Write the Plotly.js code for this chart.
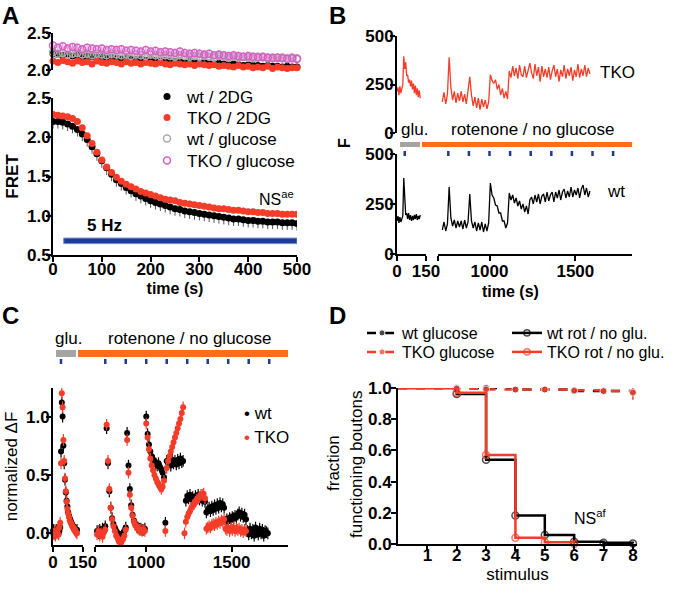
<!DOCTYPE html>
<html>
<head>
<meta charset="utf-8">
<script src="https://cdn.plot.ly/plotly-3.0.1.min.js"></script>
<style>html,body{margin:0;padding:0;background:#fff}</style>
</head>
<body>
<div id="chart" style="width:682px;height:589px"></div>
<script>
// ---- panel A : FRET over time (10 s sampling) ----
const aTime = [0,10,20,30,40,50,60,70,80,90,100,110,120,130,140,150,160,170,180,190,200,210,220,230,240,250,260,270,280,290,300,310,320,330,340,350,360,370,380,390,400,410,420,430,440,450,460,470,480,490,500];
// top strip (unstimulated)
const aWtRest = [2.22,2.21,2.20,2.21,2.19,2.20,2.18,2.19,2.18,2.17, 2.18,2.16,2.17,2.16,2.15,2.16,2.15,2.14,2.15,2.13, 2.14,2.13,2.12,2.13,2.12,2.11,2.12,2.10,2.11,2.10, 2.09,2.10,2.09,2.08,2.09,2.08,2.07,2.08,2.07,2.06, 2.07,2.06,2.06,2.05,2.06,2.05,2.05,2.04,2.05,2.04, 2.04];
const aTkoRest = [2.12,2.10,2.13,2.11,2.09,2.12,2.10,2.11,2.08,2.12, 2.10,2.09,2.11,2.10,2.08,2.11,2.09,2.10,2.08,2.10, 2.09,2.08,2.10,2.08,2.07,2.09,2.08,2.07,2.08,2.06, 2.08,2.07,2.06,2.07,2.05,2.06,2.05,2.04,2.06,2.04, 2.05,2.03,2.04,2.03,2.05,2.02,2.04,2.03,2.02,2.03, 2.03];
const aWtGlu = [2.24,2.22,2.23,2.21,2.22,2.23,2.21,2.22,2.20,2.22, 2.21,2.20,2.22,2.21,2.20,2.21,2.19,2.21,2.20,2.19, 2.21,2.20,2.19,2.20,2.19,2.18,2.20,2.19,2.18,2.19, 2.18,2.19,2.18,2.17,2.19,2.18,2.17,2.18,2.17,2.18, 2.17,2.16,2.18,2.17,2.16,2.17,2.16,2.17,2.16,2.17, 2.16];
const aTkoGlu = [2.33,2.30,2.32,2.29,2.31,2.30,2.28,2.30,2.29,2.28, 2.29,2.27,2.28,2.27,2.28,2.26,2.27,2.26,2.25,2.27, 2.25,2.26,2.24,2.25,2.24,2.23,2.25,2.23,2.22,2.23, 2.22,2.21,2.22,2.20,2.21,2.20,2.19,2.20,2.19,2.18, 2.19,2.18,2.17,2.18,2.17,2.16,2.17,2.16,2.15,2.16, 2.15];
// main plot (5 Hz, 2DG)
const aWt2dg = [2.20,2.20,2.19,2.17,2.14,2.10,2.04,1.97,1.88,1.79, 1.70,1.61,1.53,1.46,1.41,1.36,1.32,1.28,1.25,1.22, 1.19,1.17,1.15,1.13,1.11,1.09,1.08,1.06,1.05,1.04, 1.03,1.02,1.01,1.00,0.99,0.98,0.97,0.96,0.96,0.95, 0.94,0.94,0.93,0.93,0.92,0.92,0.92,0.91,0.91,0.91, 0.90];
const aTko2dg = [2.29,2.28,2.27,2.26,2.24,2.20,2.12,2.02,1.92,1.81, 1.71,1.62,1.55,1.49,1.44,1.40,1.37,1.34,1.31,1.29, 1.27,1.25,1.23,1.21,1.20,1.19,1.17,1.16,1.15,1.14, 1.13,1.12,1.11,1.10,1.09,1.09,1.08,1.07,1.07,1.06, 1.05,1.05,1.04,1.04,1.03,1.03,1.03,1.02,1.02,1.02, 1.02];
const aSemWt2dg = 0.09, aSemTko2dg = 0.04, aSemRest = 0.03, aSemGlu = 0.06;
const aStimWindow = [22, 500];

// ---- stimuli shared by B and C ----
const stimTimes = [40, 760, 880, 1000, 1120, 1240, 1360, 1480, 1600, 1720];

// ---- panel B : raw fluorescence ----
const bTimeEarly = [0,5,10,15,20,25,30,35,40,45,50,55,60,65,70,75,80,85,90,95,100,105,110,115,120];
const bTkoEarly = [215,235,195,240,205,225,250,395,330,365,295,300,260,275,240,270,225,255,205,245,195,230,185,220,180];
const bWtEarly = [165,190,155,185,160,180,190,380,240,195,205,175,205,170,195,165,190,170,195,175,200,170,190,175,195];
const bTimeLate = [725,735,745,755,765,775,785,795,805,815, 825,835,845,855,865,875,885,895,905,915, 925,935,945,955,965,975,985,995,1005,1015, 1025,1035,1045,1055,1065,1075,1085,1095,1105,1115, 1125,1135,1145,1155,1165,1175,1185,1195,1205,1215, 1225,1235,1245,1255,1265,1275,1285,1295,1305,1315, 1325,1335,1345,1355,1365,1375,1385,1395,1405,1415, 1425,1435,1445,1455,1465,1475,1485,1495,1505,1515, 1525,1535,1545,1555,1565,1575,1585];
const bTkoLate = [160,210,150,200,390,235,170,215,155,205, 165,215,160,200,150,210,290,195,140,185, 130,180,120,175,135,170,125,160,300,270, 255,275,225,250,195,230,180,215,175,320, 285,345,295,335,280,350,300,290,345,285, 325,360,310,280,355,295,340,265,345,290, 330,285,340,275,320,350,290,330,265,325, 290,350,280,330,295,340,270,325,290,355, 285,330,295,350,290,335,305];
const bWtLate = [120,160,115,150,335,180,140,170,130,165, 135,165,125,170,130,160,300,165,130,160, 115,155,120,160,110,150,115,155,355,295, 280,245,240,205,205,165,165,130,155,305, 270,295,255,280,240,265,225,250,210,240, 200,270,285,250,295,260,300,250,290,300, 260,310,265,295,310,260,310,280,320,270, 310,325,280,315,285,335,285,320,295,330, 280,325,345,295,330,285,315];

// ---- panel C : normalized dF ----
const cTimeEarly = [0,4,8,12,16,20,24,28,32,36,40,44,48,52,56,60,64,68,72,76,80,84,88,92,96,100,104,108,112,116,120];
const cWtEarly = [0.02,0.03,0.00,0.01,0.03,0.01,0.02,0.00,0.02,0.05, 0.70,1.12,1.00,0.75,0.60,0.46,0.35,0.28,0.23,0.18, 0.15,0.13,0.11,0.09,0.07,0.06,0.05,0.04,0.03,0.02, 0.03];
const cTkoEarly = [0.00,-0.01,0.02,-0.02,0.01,0.00,0.03,-0.01,0.05,0.09, 0.60,1.20,1.08,0.80,0.62,0.47,0.36,0.27,0.21,0.17, 0.14,0.11,0.09,0.08,0.06,0.05,0.04,0.03,0.02,0.01, 0.00];
const cTimeLate = [712,720,728,736,744,752,760,768,776,784, 792,800,808,816,824,832,840,848,856,864, 872,880,888,896,904,912,920,928,936,944, 952,960,968,976,984,992,1000,1008,1016,1024, 1032,1040,1048,1056,1064,1072,1080,1088,1096,1104, 1112,1120,1128,1136,1144,1152,1160,1168,1176,1184, 1192,1200,1208,1216,1224,1232,1240,1248,1256,1264, 1272,1280,1288,1296,1304,1312,1320,1328,1336,1344, 1352,1360,1368,1376,1384,1392,1400,1408,1416,1424, 1432,1440,1448,1456,1464,1472,1480,1488,1496,1504, 1512,1520,1528,1536,1544,1552,1560,1568,1576,1584, 1592,1600,1608,1616,1624,1632,1640,1648,1656,1664, 1672,1680,1688,1696,1704,1712];
const cWtLate = [0.02,0.00,0.03,0.01,0.04,0.02,0.06,0.90,0.60,0.36, 0.22,0.13,0.08,0.05,0.02,0.00,-0.02,-0.03,-0.02,0.00, 0.02,0.05,0.86,0.58,0.38,0.24,0.16,0.11,0.08,0.06, 0.05,0.04,0.04,0.03,0.03,0.04,1.00,0.85,0.76,0.70, 0.66,0.63,0.62,0.60,0.58,0.60,0.57,0.55,0.52,0.48, 0.09,0.62,0.60,0.62,0.58,0.63,0.60,0.62,0.59,0.63, 0.60,0.64,0.61,0.62,null,0.28,0.32,0.30,0.33,0.29, 0.31,0.28,0.32,0.30,0.33,0.29,0.31,0.28,0.30,0.27, 0.18,0.20,0.22,0.19,0.23,0.20,0.24,0.21,0.25,0.22, 0.26,0.23,0.25,0.22,0.10,0.12,0.11,0.13,0.12,0.14, 0.13,0.15,0.14,0.16,0.18,0.15,0.17,0.14,0.16,0.12, 0.02,-0.01,0.04,0.00,0.03,-0.02,0.05,0.01,-0.01,0.04, 0.00,0.03,-0.02,0.02,0.01,0.00];
const cTkoLate = [-0.01,0.02,-0.02,0.00,-0.03,0.01,0.03,0.93,0.62,0.38, 0.22,0.12,0.06,0.02,-0.02,-0.04,-0.07,-0.08,-0.07,-0.05, -0.02,0.03,0.80,0.52,0.33,0.22,0.15,0.10,0.07,0.05, 0.04,0.03,0.03,0.02,0.03,0.02,0.94,0.82,0.72,0.64, 0.58,0.54,0.50,0.47,0.44,0.42,0.40,0.38,0.40,0.45, 0.02,0.56,0.62,0.66,0.70,0.74,0.78,0.82,0.86,0.90, 0.94,0.98,1.03,1.08,0.00,0.10,0.14,0.17,0.19,0.22, 0.24,0.25,0.27,0.29,0.30,0.31,0.33,0.33,0.34,0.30, 0.04,0.05,0.06,0.05,0.07,0.08,0.07,0.09,0.08,0.10, 0.09,0.11,0.10,0.12,0.04,0.03,0.05,0.02,0.04,0.03, 0.05,0.02,0.04,0.03,0.04,0.02,0.03,0.01,0.03,0.02, null,null,null,null,null,null,null,null,null,null, null,null,null,null,null,null];
const cSem = 0.05;

// ---- panel D : fraction of functioning boutons ----
const dStim = [0, 2, 3, 4, 5, 6, 7, 8];
const dWtGlu = [1, 1.0, 1.0, 0.99, 0.99, 0.98, 0.98, 0.975];
const dTkoGlu = [1, 0.995, 0.99, 0.99, 0.99, 0.985, 0.98, 0.97];
const dTkoGluErr = [0, 0.01, 0.01, 0.01, 0.01, 0.01, 0.015, 0.045];
const dWtRot = [1, 0.962, 0.54, 0.183, 0.057, 0.015, 0.008, 0.003];
const dTkoRot = [1, 0.97, 0.57, 0.04, 0.012, 0.0, null, null];

// ---- look ----
const FONT = 'Liberation Sans, Arial, sans-serif';
const RED = '#f43c28', PINK = '#d660c4', GREY = '#aaaaaa', NAVY = '#1c3c96', ORANGE = '#ff6c1c', BAR_GREY = '#a4a4a4';
const W = 682, H = 589;
const fx = p => p / W;
const fy = p => 1 - p / H;
const domX = (a, b) => [a / W, b / W];
const domY = (top, bottom) => [1 - bottom / H, 1 - top / H];
const bold = (size) => ({family: FONT, size: size, color: '#000', weight: 'bold'});
const plain = (size) => ({family: FONT, size: size, color: '#000'});

function axis(extra) {
  return Object.assign({
    showgrid: false, zeroline: false, showline: true, linecolor: '#000', linewidth: 2,
    ticks: 'outside', ticklen: 5, tickwidth: 2, tickcolor: '#000', ticklabelstandoff: -4,
    tickfont: bold(17), fixedrange: true, automargin: false
  }, extra);
}

const traces = [];
// A top strip (one legend box per entry)
traces.push({x: aTime, y: aWtRest, xaxis: 'x2', yaxis: 'y2', mode: 'markers', name: 'wt / 2DG', legend: 'legend',
  marker: {color: '#000', size: 7}, error_y: {type: 'constant', value: aSemRest, color: '#666', thickness: 1, width: 0}, cliponaxis: false});
traces.push({x: aTime, y: aTkoRest, xaxis: 'x2', yaxis: 'y2', mode: 'markers', name: 'TKO / 2DG', legend: 'legend2',
  marker: {color: RED, size: 7}, error_y: {type: 'constant', value: aSemRest, color: '#ff8f80', thickness: 1, width: 0}, cliponaxis: false});
traces.push({x: aTime, y: aWtGlu, xaxis: 'x2', yaxis: 'y2', mode: 'markers', name: 'wt / glucose', legend: 'legend3',
  marker: {color: GREY, size: 7, symbol: 'circle-open', line: {width: 1.5}}, error_y: {type: 'constant', value: aSemGlu, color: '#bbbbbb', thickness: 1, width: 0}, cliponaxis: false});
traces.push({x: aTime, y: aTkoGlu, xaxis: 'x2', yaxis: 'y2', mode: 'markers', name: 'TKO / glucose', legend: 'legend4',
  marker: {color: PINK, size: 7, symbol: 'circle-open', line: {width: 1.5}}, error_y: {type: 'constant', value: aSemGlu, color: '#e59ad9', thickness: 1, width: 0}, cliponaxis: false});
// A main
traces.push({x: aTime, y: aWt2dg, xaxis: 'x', yaxis: 'y', mode: 'markers', showlegend: false,
  marker: {color: '#000', size: 7}, error_y: {type: 'constant', symmetric: false, value: 0, valueminus: aSemWt2dg, color: '#555', thickness: 1, width: 0}});
traces.push({x: aTime, y: aTko2dg, xaxis: 'x', yaxis: 'y', mode: 'markers', showlegend: false,
  marker: {color: RED, size: 7}, error_y: {type: 'constant', symmetric: false, value: aSemTko2dg, valueminus: 0, color: '#ff8f80', thickness: 1, width: 0}});

// B
const bLine = (x, y, xa, ya, c) => ({x: x, y: y, xaxis: xa, yaxis: ya, mode: 'lines', showlegend: false, line: {color: c, width: 1.3}});
traces.push(bLine(bTimeEarly, bTkoEarly, 'x3', 'y4', RED));
traces.push(bLine(bTimeLate, bTkoLate, 'x4', 'y4', RED));
traces.push(bLine(bTimeEarly, bWtEarly, 'x3', 'y3', '#000'));
traces.push(bLine(bTimeLate, bWtLate, 'x4', 'y3', '#000'));

// C
const cPts = (x, y, xa, c, ec) => ({x: x, y: y, xaxis: xa, yaxis: 'y5', mode: 'markers', showlegend: false,
  marker: {color: c, size: 6}, error_y: {type: 'constant', value: cSem, color: ec, thickness: 1.2, width: 0}, cliponaxis: false});
traces.push(cPts(cTimeEarly, cWtEarly, 'x5', '#000', '#000'));
traces.push(cPts(cTimeLate, cWtLate, 'x6', '#000', '#000'));
traces.push(cPts(cTimeEarly, cTkoEarly, 'x5', RED, RED));
traces.push(cPts(cTimeLate, cTkoLate, 'x6', RED, RED));

// D
const hideFirst = arr => arr.map((v, i) => i === 0 ? 0 : 7);
traces.push({x: dStim, y: dWtGlu, xaxis: 'x7', yaxis: 'y7', mode: 'lines+markers', name: 'wt glucose', legend: 'legend5',
  line: {color: '#000', width: 2.5, dash: 'dash', shape: 'hv'}, marker: {color: '#000', size: hideFirst(dStim)}, cliponaxis: false});
traces.push({x: dStim, y: dTkoGlu, xaxis: 'x7', yaxis: 'y7', mode: 'lines+markers', name: 'TKO glucose', legend: 'legend6',
  line: {color: RED, width: 2.5, dash: 'dash', shape: 'hv'}, marker: {color: RED, size: hideFirst(dStim)},
  error_y: {type: 'data', array: dTkoGluErr, color: RED, thickness: 1.5, width: 0}, cliponaxis: false});
traces.push({x: dStim, y: dWtRot, xaxis: 'x7', yaxis: 'y7', mode: 'lines+markers', name: 'wt rot / no glu.', legend: 'legend7',
  line: {color: '#000', width: 2.5, shape: 'hv'}, marker: {color: '#000', size: hideFirst(dStim), symbol: 'circle-open', line: {width: 1.5}}, cliponaxis: false});
traces.push({x: dStim, y: dTkoRot, xaxis: 'x7', yaxis: 'y7', mode: 'lines+markers', name: 'TKO rot / no glu.', legend: 'legend8',
  line: {color: RED, width: 2.5, shape: 'hv'}, marker: {color: RED, size: hideFirst(dStim), symbol: 'circle-open', line: {width: 1.5}}, cliponaxis: false});

// shapes
const shapes = [];
shapes.push({type: 'rect', xref: 'x', yref: 'y', x0: aStimWindow[0], x1: aStimWindow[1], y0: 0.645, y1: 0.715,
  fillcolor: NAVY, line: {color: '#6f8ad6', width: 1}});
function conditionBars(gx0, gx1, ox1, yTop, yBot, tickTop, tickBot, xEarly, xLate) {
  shapes.push({type: 'rect', xref: 'paper', yref: 'paper', x0: fx(gx0), x1: fx(gx1), y0: fy(yBot), y1: fy(yTop), fillcolor: BAR_GREY, line: {width: 0}});
  shapes.push({type: 'rect', xref: 'paper', yref: 'paper', x0: fx(gx1 + 2), x1: fx(ox1), y0: fy(yBot), y1: fy(yTop), fillcolor: ORANGE, line: {width: 0}});
  stimTimes.forEach(t => {
    shapes.push({type: 'line', xref: t <= 150 ? xEarly : xLate, yref: 'paper', x0: t, x1: t, y0: fy(tickBot), y1: fy(tickTop),
      line: {color: NAVY, width: 2.5}});
  });
}
conditionBars(400, 420, 632, 142, 147, 151, 156, 'x3', 'x4');
conditionBars(56, 76, 288, 350, 357, 359, 364, 'x5', 'x6');

// text
const ann = [];
const txt = (x, y, text, font, opts) => ann.push(Object.assign({xref: 'paper', yref: 'paper', x: fx(x), y: fy(y), text: text, font: font,
  showarrow: false, xanchor: 'center', yanchor: 'middle'}, opts || {}));
txt(10, 15, 'A', bold(24));
txt(337, 15, 'B', bold(24));
txt(10, 315, 'C', bold(24));
txt(337, 315, 'D', bold(24));
ann.push({xref: 'x', yref: 'y', x: 105, y: 0.87, text: '5 Hz', font: bold(17), showarrow: false});
ann.push({xref: 'x', yref: 'y', x: 498, y: 1.22, text: 'NS<sup>ae</sup>', font: plain(16), showarrow: false, xanchor: 'right'});
txt(345, 143, 'F', bold(16), {textangle: -90});
txt(598, 72, 'TKO', plain(17), {xanchor: 'left'});
txt(605, 192, 'wt', plain(17), {xanchor: 'left'});
txt(399, 130, 'glu.', plain(17), {xanchor: 'left'});
txt(533, 130, 'rotenone / no glucose', plain(17));
txt(510, 291, 'time (s)', bold(16));
txt(53, 338, 'glu.', plain(17), {xanchor: 'left'});
txt(190, 338, 'rotenone / no glucose', plain(17));
txt(242, 413, '<span style="color:#000">•</span> wt', plain(17), {xanchor: 'left'});
txt(242, 437, '<span style="color:' + RED + '">•</span> TKO', plain(17), {xanchor: 'left'});
txt(572, 517, 'NS<sup>af</sup>', plain(16), {xanchor: 'left'});
txt(333, 463, 'fraction', plain(17), {textangle: -90});
txt(356, 465, 'functioning boutons', plain(17), {textangle: -90});

const legendBox = (x, y, size) => ({x: fx(x), y: fy(y), xanchor: 'left', yanchor: 'middle', font: plain(size),
  bgcolor: 'rgba(0,0,0,0)', itemclick: false, itemdoubleclick: false});

const layout = {
  width: W, height: H,
  margin: {l: 0, r: 0, t: 0, b: 0},
  paper_bgcolor: '#fff', plot_bgcolor: 'rgba(0,0,0,0)',
  font: plain(16),
  showlegend: true,
  legend: legendBox(147, 97, 17),
  legend2: legendBox(147, 118, 17),
  legend3: legendBox(147, 139, 17),
  legend4: legendBox(147, 161, 17),
  legend5: legendBox(362, 333, 16),
  legend6: legendBox(362, 352, 16),
  legend7: legendBox(507, 333, 16),
  legend8: legendBox(507, 352, 16),

  xaxis: axis({domain: domX(53, 297), range: [0, 500], anchor: 'y', tickvals: [0, 100, 200, 300, 400, 500], ticklabelstandoff: -7,
    title: {text: 'time (s)', font: bold(16), standoff: 4}}),
  yaxis: axis({domain: domY(98, 255), range: [0.5, 2.5], anchor: 'x', tickvals: [0.5, 1, 1.5, 2, 2.5], tickformat: '.1f', ticklabelstandoff: -8,
    title: {text: 'FRET', font: bold(17), standoff: 4}}),
  xaxis2: {domain: domX(53, 297), range: [0, 500], anchor: 'y2', visible: false, fixedrange: true, automargin: false},
  yaxis2: axis({domain: domY(33, 70), range: [2.0, 2.5], anchor: 'x2', tickvals: [2.0, 2.5], tickformat: '.1f', ticklabelstandoff: -8}),

  xaxis3: axis({domain: domX(397, 426), range: [0, 150], anchor: 'y3', tickvals: [0, 150]}),
  xaxis4: axis({domain: domX(438, 632), range: [700, 1830], anchor: 'y3', tickvals: [700, 1000, 1500], ticktext: ['', '1000', '1500']}),
  yaxis3: axis({domain: domY(154, 254), range: [0, 500], anchor: 'x3', tickvals: [0, 250, 500], ticklabelstandoff: -7}),
  yaxis4: axis({domain: domY(36, 133), range: [0, 500], anchor: 'x3', tickvals: [0, 250, 500], ticklabelstandoff: -7}),

  xaxis5: axis({domain: domX(53, 83), range: [0, 150], anchor: 'y5', tickvals: [0, 150]}),
  xaxis6: axis({domain: domX(95, 288), range: [700, 1830], anchor: 'y5', tickvals: [700, 1000, 1500], ticktext: ['', '1000', '1500']}),
  yaxis5: axis({domain: domY(388, 545), range: [-0.1, 1.245], anchor: 'x5', tickvals: [0, 0.5, 1.0], tickformat: '.1f', ticklabelstandoff: -7,
    title: {text: 'normalized ΔF', font: plain(17), standoff: 4}}),

  xaxis7: axis({domain: domX(398, 637), range: [0, 8.14], anchor: 'y7', tickvals: [1, 2, 3, 4, 5, 6, 7, 8], ticklabelstandoff: -10,
    title: {text: 'stimulus', font: plain(17), standoff: 0}}),
  yaxis7: axis({domain: domY(388, 544), range: [0, 1.0], anchor: 'x7', tickvals: [0, 0.2, 0.4, 0.6, 0.8, 1.0], tickformat: '.1f'}),

  shapes: shapes,
  annotations: ann
};

Plotly.newPlot('chart', traces, layout, {displayModeBar: false, staticPlot: true});
</script>
</body>
</html>
